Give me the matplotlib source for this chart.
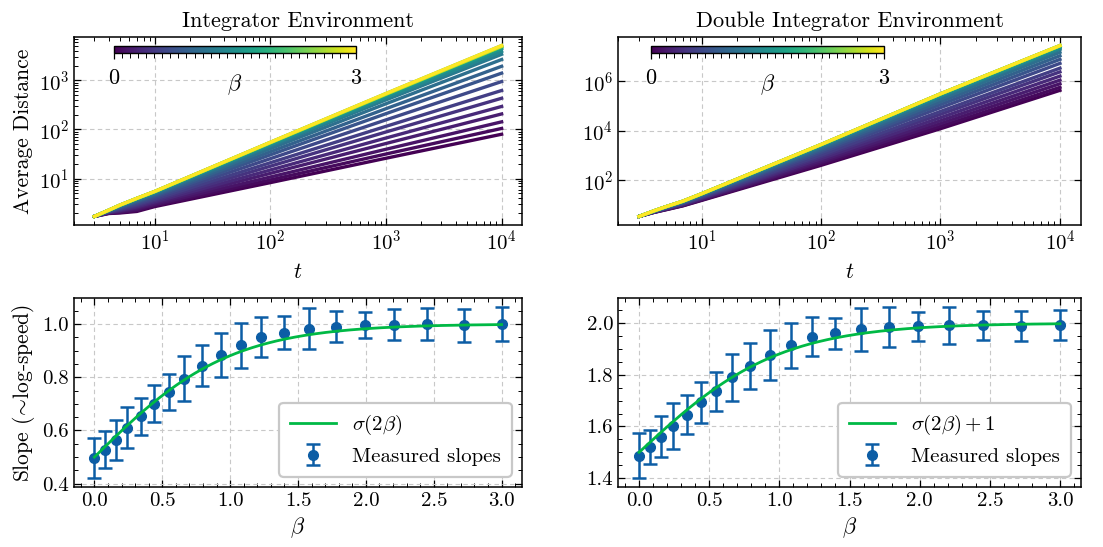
import matplotlib
matplotlib.use("Agg")
import matplotlib.pyplot as plt
import numpy as np
from matplotlib.ticker import MultipleLocator, FormatStrFormatter

plt.rcParams.update({
    "font.family": "serif",
    "font.serif": ["cmr10"],
    "mathtext.fontset": "cm",
    "axes.formatter.use_mathtext": True,
    "axes.unicode_minus": False,
    "font.size": 15,
    "axes.linewidth": 1.1,
    "xtick.direction": "in",
    "ytick.direction": "in",
    "xtick.top": True,
    "ytick.right": True,
    "xtick.major.size": 5,
    "ytick.major.size": 5,
    "xtick.minor.size": 2.6,
    "ytick.minor.size": 2.6,
    "xtick.major.width": 0.9,
    "ytick.major.width": 0.9,
    "xtick.minor.width": 0.7,
    "ytick.minor.width": 0.7,
    "xtick.minor.visible": True,
    "ytick.minor.visible": True,
})

# beta values and measured slopes
betas = [0.0, 0.08, 0.16, 0.24, 0.34, 0.44, 0.55, 0.66, 0.79, 0.93,
         1.08, 1.23, 1.40, 1.58, 1.78, 1.99, 2.21, 2.45, 2.72, 3.0]
slope_int = [0.495, 0.528, 0.565, 0.610, 0.653, 0.700, 0.744, 0.795, 0.843, 0.882,
             0.920, 0.950, 0.966, 0.982, 0.990, 0.995, 0.997, 1.000, 0.995, 1.000]
err_int = [0.075, 0.070, 0.076, 0.077, 0.070, 0.069, 0.067, 0.085, 0.077, 0.083,
           0.085, 0.075, 0.062, 0.076, 0.058, 0.048, 0.058, 0.060, 0.062, 0.065]
slope_dbl = [1.486, 1.520, 1.560, 1.601, 1.646, 1.694, 1.736, 1.790, 1.835, 1.876,
             1.914, 1.947, 1.960, 1.976, 1.985, 1.987, 1.991, 1.991, 1.988, 1.991]
err_dbl = [0.087, 0.067, 0.080, 0.090, 0.077, 0.080, 0.076, 0.090, 0.089, 0.097,
           0.086, 0.076, 0.060, 0.082, 0.077, 0.056, 0.073, 0.055, 0.058, 0.058]

# average distance curves, one row per beta, at these times
t_knots = [3, 4, 5, 7, 10, 100, 1000, 10000]
dist_int = [
    [1.7, 1.95, 2.00, 2.15, 2.70, 8.3, 26, 80],
    [1.7, 1.97, 2.05, 2.25, 2.83, 9.4, 31.7, 105],
    [1.7, 2.00, 2.10, 2.38, 2.98, 10.8, 39.6, 143],
    [1.7, 2.03, 2.18, 2.53, 3.17, 12.8, 51.9, 207],
    [1.7, 2.06, 2.24, 2.67, 3.37, 15.0, 67.1, 294],
    [1.7, 2.09, 2.32, 2.83, 3.60, 17.9, 89, 432],
    [1.7, 2.12, 2.40, 2.98, 3.83, 21.1, 116, 621],
    [1.7, 2.15, 2.49, 3.16, 4.12, 25.5, 157, 944],
    [1.7, 2.18, 2.58, 3.34, 4.41, 30.5, 210, 1400],
    [1.7, 2.20, 2.65, 3.49, 4.66, 35.3, 265, 1930],
    [1.7, 2.23, 2.73, 3.64, 4.91, 40.7, 334, 2650],
    [1.7, 2.25, 2.79, 3.77, 5.12, 45.6, 400, 3380],
    [1.7, 2.26, 2.82, 3.84, 5.24, 48.4, 441, 3860],
    [1.7, 2.27, 2.86, 3.91, 5.36, 51.3, 484, 4400],
    [1.7, 2.28, 2.88, 3.94, 5.42, 52.9, 508, 4700],
    [1.7, 2.28, 2.89, 3.96, 5.46, 54.0, 523, 4900],
    [1.7, 2.29, 2.90, 3.97, 5.48, 54.5, 530, 4980],
    [1.7, 2.29, 2.90, 3.98, 5.50, 55.0, 540, 5100],
    [1.7, 2.28, 2.89, 3.96, 5.46, 54.0, 523, 4900],
    [1.7, 2.29, 2.90, 3.98, 5.50, 55.0, 540, 5100],
]
dist_dbl = [
    [3.5, 5.1, 6.46, 9.4, 15.5, 407, 1.23e4, 4.37e5],
    [3.5, 5.1, 6.58, 9.6, 16.1, 464, 1.53e4, 5.77e5],
    [3.5, 5.2, 6.73, 9.9, 17.0, 541, 1.98e4, 8.05e5],
    [3.5, 5.2, 6.89, 10.3, 17.9, 634, 2.58e4, 1.13e6],
    [3.5, 5.3, 7.06, 10.7, 18.9, 752, 3.44e4, 1.64e6],
    [3.5, 5.4, 7.26, 11.2, 20.0, 904, 4.69e4, 2.43e6],
    [3.5, 5.4, 7.43, 11.6, 21.1, 1060, 6.14e4, 3.44e6],
    [3.5, 5.5, 7.66, 12.2, 22.5, 1310, 8.69e4, 5.37e6],
    [3.5, 5.6, 7.85, 12.7, 23.8, 1550, 1.16e5, 7.78e6],
    [3.5, 5.7, 8.04, 13.1, 25.0, 1810, 1.51e5, 1.09e7],
    [3.5, 5.7, 8.20, 13.6, 26.2, 2100, 1.93e5, 1.50e7],
    [3.5, 5.8, 8.36, 14.0, 27.3, 2380, 2.38e5, 1.96e7],
    [3.5, 5.8, 8.41, 14.1, 27.8, 2510, 2.59e5, 2.19e7],
    [3.5, 5.8, 8.49, 14.3, 28.3, 2660, 2.87e5, 2.49e7],
    [3.5, 5.9, 8.55, 14.5, 28.7, 2760, 3.08e5, 2.70e7],
    [3.5, 5.9, 8.56, 14.5, 28.8, 2780, 3.12e5, 2.74e7],
    [3.5, 5.9, 8.57, 14.6, 28.8, 2820, 3.16e5, 2.82e7],
    [3.5, 5.9, 8.57, 14.6, 28.8, 2820, 3.16e5, 2.82e7],
    [3.5, 5.9, 8.56, 14.5, 28.8, 2790, 3.13e5, 2.76e7],
    [3.5, 5.9, 8.57, 14.6, 28.8, 2820, 3.16e5, 2.82e7],
]

blue = "#0C5DA5"
green = "#00B945"
cmap = plt.get_cmap("viridis")
norm = matplotlib.colors.Normalize(0, 3)

W, H = 1103, 547
fig = plt.figure(figsize=(W / 100, H / 100), dpi=100)


def px_axes(l, t, r, b):
    return fig.add_axes([l / W, 1 - b / H, (r - l) / W, (b - t) / H])


ax1 = px_axes(74, 37, 522, 225)
ax2 = px_axes(618, 37, 1081, 225)
ax3 = px_axes(74, 298, 522, 487)
ax4 = px_axes(618, 298, 1081, 487)

grid_kw = dict(color="#c8c8c8", linestyle=(0, (4, 3)), linewidth=0.8)

for ax, dist, title, cb_rect in [
        (ax1, dist_int, "Integrator Environment", [0.089, 0.915, 0.54, 0.037]),
        (ax2, dist_dbl, "Double Integrator Environment", [0.071, 0.915, 0.503, 0.037])]:
    for b, row in zip(betas, dist):
        ax.plot(t_knots, row, color=cmap(norm(b)), lw=2.4)
    ax.set_xscale("log")
    ax.set_yscale("log")
    ax.grid(True, which="major", **grid_kw)
    ax.set_title(title, fontsize=16, pad=7)
    ax.set_xlabel(r"$t$", fontsize=16, labelpad=6)
    cax = ax.inset_axes(cb_rect)
    sm = matplotlib.cm.ScalarMappable(norm=norm, cmap=cmap)
    cb = fig.colorbar(sm, cax=cax, orientation="horizontal", ticks=[0, 3])
    cb.outline.set_linewidth(1.0)
    cax.xaxis.set_minor_locator(MultipleLocator(0.1))
    cax.tick_params(which="both", top=False, bottom=True, direction="out")
    cax.tick_params(which="major", length=4, labelsize=16, pad=7)
    cax.tick_params(which="minor", length=3.5)
    cb.set_label(r"$\beta$", fontsize=16, labelpad=-11)

ax1.set_ylabel("Average Distance", fontsize=15.5)

for ax, slope, err, lab, ylab in [
        (ax3, slope_int, err_int, r"$\sigma(2\beta)$", r"Slope (${\!\sim\!}$log-speed)"),
        (ax4, slope_dbl, err_dbl, r"$\sigma(2\beta)+1$", None)]:
    ax.errorbar(betas, slope, yerr=err, fmt="o", color=blue, ms=7,
                elinewidth=1.8, capsize=5, capthick=1.8, label="Measured slopes")
    bb = np.linspace(0, 3, 200)
    offset = 0.0 if ax is ax3 else 1.0
    ax.plot(bb, 1 / (1 + np.exp(-2 * bb)) + offset, color=green, lw=2.0,
            label=lab, zorder=5)
    ax.xaxis.set_major_locator(MultipleLocator(0.5))
    ax.xaxis.set_minor_locator(MultipleLocator(0.1))
    ax.yaxis.set_major_locator(MultipleLocator(0.2))
    ax.yaxis.set_minor_locator(MultipleLocator(0.05))
    ax.xaxis.set_major_formatter(FormatStrFormatter("%.1f"))
    ax.yaxis.set_major_formatter(FormatStrFormatter("%.1f"))
    ax.grid(True, which="major", **grid_kw)
    ax.set_xlabel(r"$\beta$", fontsize=16)
    if ylab:
        ax.set_ylabel(ylab, fontsize=15.5)
    leg = ax.legend(loc="lower right", fontsize=15, frameon=True, fancybox=True,
                    framealpha=1.0, borderpad=0.5, handlelength=2.2)
    leg.get_frame().set_edgecolor("#c8c8c8")
    leg.get_frame().set_linewidth(1.6)

for ax in (ax1, ax2, ax3, ax4):
    ax.tick_params(labelsize=15)

fig.savefig("out.png", dpi=100)
